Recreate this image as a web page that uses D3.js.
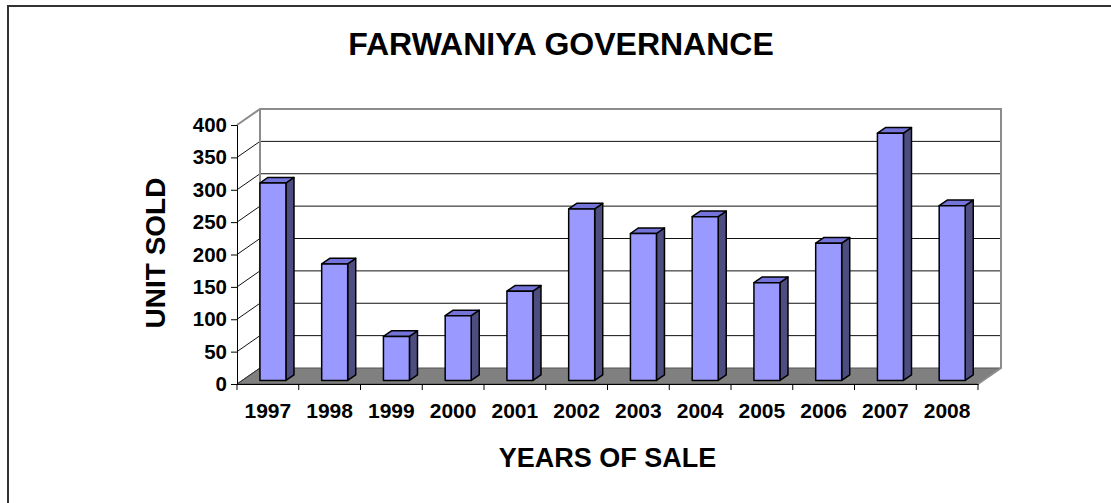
<!DOCTYPE html>
<html>
<head>
<meta charset="utf-8">
<script src="https://cdn.jsdelivr.net/npm/d3@7"></script>
<style>
  body { margin: 0; background: #fff; }
  svg { display: block; }
</style>
</head>
<body>
<div id="container_bar"><svg></svg></div>
<script>
let width = 1111;
let height = 503;

// data
let years = ['1997', '1998', '1999', '2000', '2001', '2002', '2003', '2004', '2005', '2006', '2007', '2008'];
let units = [305, 180, 68, 100, 138, 265, 227, 253, 151, 212, 382, 270];
let yTicks = [0, 50, 100, 150, 200, 250, 300, 350, 400];

let fontFamily = "'Liberation Sans', Arial, sans-serif";

// front plane of the 3d box
let plot = {left: 237, right: 978, bottom: 384, top: 125};
let depth = {dx: 23, dy: -16};

let x = d3.scaleBand()
    .domain(years)
    .range([plot.left, plot.right]);

let y = d3.scaleLinear()
    .domain([0, 400])
    .range([plot.bottom, plot.top]);

// bar sits between these depth fractions
let barFront = 0.22, barBack = 0.57;
let barWidth = 26;

function off(f) {
    return [depth.dx * f, depth.dy * f];
}

function draw_chart() {
    let svg = d3.select('#container_bar').select('svg')
        .attr('width', width)
        .attr('height', height)
        .style('font-family', fontFamily);

    // outer frame
    svg.append('rect')
        .attr('x', 8).attr('y', 6)
        .attr('width', 1200).attr('height', 600)
        .attr('fill', 'none')
        .attr('stroke', '#333')
        .attr('stroke-width', 2);

    let [bx, by] = off(1);
    let x0 = plot.left, x1 = plot.right;

    // floor
    svg.append('path')
        .attr('d', `M${x0},${y(0)}L${x1},${y(0)}L${x1 + bx},${y(0) + by}L${x0 + bx},${y(0) + by}Z`)
        .attr('fill', '#808080')
        .attr('stroke', '#555')
        .attr('stroke-width', 1);

    // back wall grid lines
    svg.append('g')
        .selectAll('line')
        .data(yTicks.filter(d => d > 0 && d < 400))
        .join('line')
        .attr('x1', x0 + bx).attr('x2', x1 + bx)
        .attr('y1', d => y(d) + by).attr('y2', d => y(d) + by)
        .attr('stroke', '#111')
        .attr('stroke-width', 1);

    // side wall grid lines
    svg.append('g')
        .selectAll('line')
        .data(yTicks.filter(d => d > 0 && d < 400))
        .join('line')
        .attr('x1', x0).attr('x2', x0 + bx)
        .attr('y1', d => y(d)).attr('y2', d => y(d) + by)
        .attr('stroke', '#111')
        .attr('stroke-width', 1);

    // wall outlines
    svg.append('path')
        .attr('d', `M${x0},${y(400)}L${x0 + bx},${y(400) + by}L${x1 + bx},${y(400) + by}L${x1 + bx},${y(0) + by}L${x1},${y(0)}`)
        .attr('fill', 'none')
        .attr('stroke', '#8c8c8c')
        .attr('stroke-width', 2);
    svg.append('line')
        .attr('x1', x0 + bx).attr('x2', x0 + bx)
        .attr('y1', y(400) + by).attr('y2', y(0) + by)
        .attr('stroke', '#8c8c8c')
        .attr('stroke-width', 2);
    svg.append('line')
        .attr('x1', x0).attr('x2', x0 + bx)
        .attr('y1', y(0)).attr('y2', y(0) + by)
        .attr('stroke', '#333')
        .attr('stroke-width', 1);

    // bars
    let [fx, fy] = off(barFront);
    let [kx, ky] = off(barBack - barFront);
    let bars = svg.append('g')
        .selectAll('g')
        .data(years.map((d, i) => ({year: d, value: units[i]})))
        .join('g')
        .attr('stroke', '#000')
        .attr('stroke-width', 1.5)
        .attr('stroke-linejoin', 'round');

    bars.each(function(d) {
        let g = d3.select(this);
        let l = x(d.year) + x.bandwidth() / 2 - barWidth / 2 + fx;
        let r = l + barWidth;
        let t = y(d.value) + fy;
        let b = y(0) + fy;
        // side face
        g.append('path')
            .attr('d', `M${r},${b}L${r + kx},${b + ky}L${r + kx},${t + ky}L${r},${t}Z`)
            .attr('fill', '#4d4d80');
        // top face
        g.append('path')
            .attr('d', `M${l},${t}L${l + kx},${t + ky}L${r + kx},${t + ky}L${r},${t}Z`)
            .attr('fill', '#7373d9');
        // front face
        g.append('rect')
            .attr('x', l).attr('y', t)
            .attr('width', barWidth).attr('height', b - t)
            .attr('fill', '#9999ff');
    });

    // y axis
    let yAxis = g => g
        .attr('transform', `translate(${plot.left},0)`)
        .call(d3.axisLeft(y).tickValues(yTicks).tickSize(6).tickPadding(4))
        .call(g => g.selectAll('text')
            .attr('font-size', 20.5)
            .attr('font-weight', 'bold')
            .attr('font-family', fontFamily)
            .attr('fill', '#000'))
        .call(g => g.selectAll('line,path').attr('stroke', '#000'));

    // x axis
    let xAxis = g => g
        .attr('transform', `translate(0,${plot.bottom})`)
        .call(d3.axisBottom(x).tickSize(0).tickPadding(19))
        .call(g => g.selectAll('text')
            .attr('font-size', 21)
            .attr('font-weight', 'bold')
            .attr('font-family', fontFamily)
            .attr('fill', '#000'))
        .call(g => g.select('.domain').attr('stroke', '#000'));

    svg.append('g').call(yAxis);
    svg.append('g').call(xAxis);

    // category separators below the axis
    svg.append('g')
        .selectAll('line')
        .data(years.concat(['end']))
        .join('line')
        .attr('x1', (d, i) => plot.left + i * x.bandwidth())
        .attr('x2', (d, i) => plot.left + i * x.bandwidth())
        .attr('y1', plot.bottom).attr('y2', plot.bottom + 6)
        .attr('stroke', '#000');

    // titles
    svg.append('text')
        .attr('x', 561).attr('y', 55)
        .attr('text-anchor', 'middle')
        .attr('font-size', 32)
        .attr('font-weight', 'bold')
        .text('FARWANIYA GOVERNANCE');

    svg.append('text')
        .attr('transform', 'translate(165,253) rotate(-90)')
        .attr('text-anchor', 'middle')
        .attr('font-size', 28)
        .attr('font-weight', 'bold')
        .text('UNIT SOLD');

    svg.append('text')
        .attr('x', (plot.left + plot.right) / 2).attr('y', 467)
        .attr('text-anchor', 'middle')
        .attr('font-size', 27)
        .attr('font-weight', 'bold')
        .text('YEARS OF SALE');
}

draw_chart();
</script>
</body>
</html>
